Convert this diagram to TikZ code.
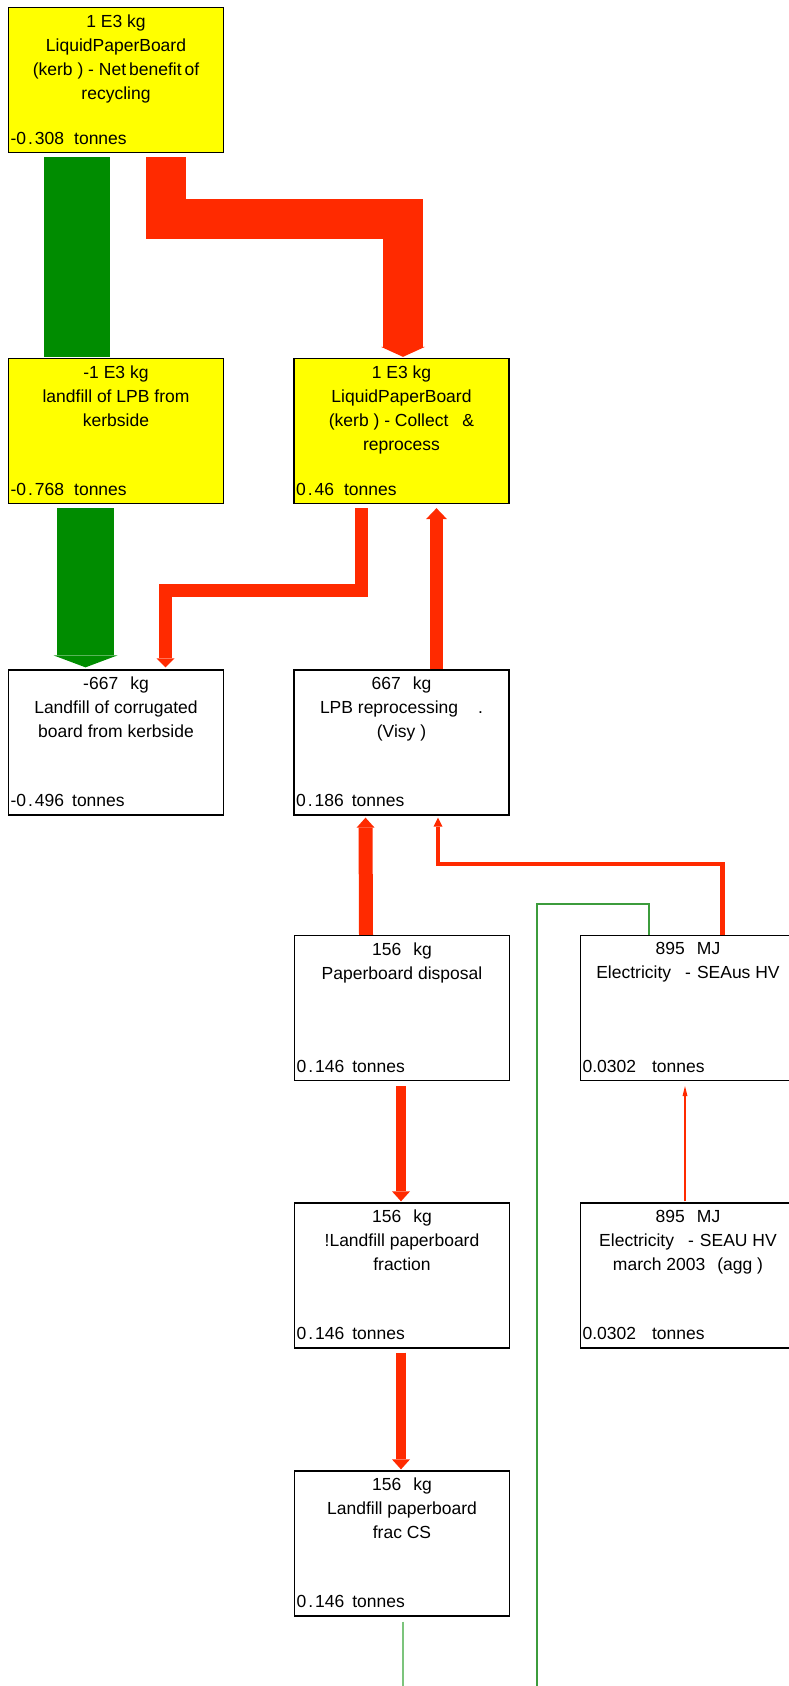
\documentclass[tikz,border=0pt]{standalone}
\usepackage{fontspec}
\setmainfont{Liberation Sans}
\usetikzlibrary{arrows.meta}
\definecolor{flowred}{HTML}{FF2A00}
\definecolor{flowgreen}{HTML}{008C00}
\definecolor{thingreen}{HTML}{3C9C3C}
\definecolor{lightgreen}{HTML}{7CC47C}
\definecolor{boxyellow}{HTML}{FFFF00}
\tikzset{
  pbox/.style={draw=black, line width=1.3pt, minimum width=215pt, minimum height=145pt, inner sep=0pt, fill=white},
  ybox/.style={fill=boxyellow},
  ptitle/.style={anchor=north, align=center, inner sep=0pt, font=\fontsize{17.5}{24}\selectfont},
  pval/.style={anchor=base west, inner sep=0pt, font=\fontsize{17.5}{24}\selectfont},
  flow/.style={line join=miter, line cap=butt},
}
\newcommand\procbox[5]{%
  \node[pbox,#3] (#1) at (#2) {};
  \node[ptitle] (#1-t) at ([yshift=-7.5pt]#1.north) {#4};
  \node[pval] (#1-v) at ([xshift=2.5pt,yshift=9pt]#1.south west) {#5};
}
\newcommand\dt{\kern2pt.\kern2pt}
\begin{document}
\begin{tikzpicture}[x=1pt,y=-1pt]
\useasboundingbox[fill=white] (0,0) rectangle (788,1686);
\procbox{b1}{116,80}{ybox}{1 E3 kg\\LiquidPaperBoard\\(kerb ) - Net\,benefit\,of\\recycling}{-0\dt308\hspace{10pt}tonnes}
\procbox{b2}{116,431}{ybox}{-1 E3 kg\\landfill of LPB from\\kerbside}{-0\dt768\hspace{10pt}tonnes}
\procbox{b3}{401.5,431}{ybox}{1 E3 kg\\LiquidPaperBoard\\(kerb ) - Collect\hspace{14pt}\&\\reprocess}{0\dt46\hspace{10pt}tonnes}
\procbox{b4}{116,742.5}{}{-667\hspace{12pt}kg\\Landfill of corrugated\\board from kerbside}{-0\dt496\hspace{8pt}tonnes}
\procbox{b5}{401.5,742.5}{}{667\hspace{12pt}kg\\LPB reprocessing\hspace{20pt}.\\(Visy )}{0\dt186\hspace{8pt}tonnes}
\procbox{b6}{402,1008}{}{156\hspace{12pt}kg\\Paperboard disposal}{0\dt146\hspace{8pt}tonnes}
\procbox{b7}{688,1008}{}{895\hspace{12pt}MJ\\Electricity\hspace{14pt}-\hspace{6pt}SEAus HV}{0.0302\hspace{16pt}tonnes}
\procbox{b8}{402,1275.5}{}{156\hspace{12pt}kg\\!Landfill paperboard\\fraction}{0\dt146\hspace{8pt}tonnes}
\procbox{b9}{688,1275.5}{}{895\hspace{12pt}MJ\\Electricity\hspace{14pt}-\hspace{6pt}SEAU HV\\march 2003\hspace{12pt}(agg )}{0.0302\hspace{16pt}tonnes}
\procbox{b10}{402,1543.5}{}{156\hspace{12pt}kg\\Landfill paperboard\\frac CS}{0\dt146\hspace{8pt}tonnes}
\coordinate (gend) at (537,1700);
\coordinate (gend2) at (403,1700);
% flows
\draw[flowgreen, flow, line width=66pt, shorten <=4pt, shorten >=1pt] ([xshift=-39pt]b1.south) -- ([xshift=-39pt]b2.north);
\draw[flowred, flow, line width=40pt, shorten <=4pt, shorten >=1pt, -{Triangle[width=44pt,length=10pt,line width=0pt]}] ([xshift=50pt]b1.south) -- ++(0,66) -| ([xshift=1.5pt]b3.north);
\draw[flowgreen, flow, line width=57pt, shorten <=4pt, shorten >=2pt, -{Triangle[width=64pt,length=12pt,line width=0pt]}] ([xshift=-30.5pt]b2.south) -- ([xshift=-30.5pt]b4.north);
\draw[flowred, flow, line width=13pt, shorten <=4pt, shorten >=2pt, -{Triangle[width=18pt,length=9pt,line width=0pt]}] ([xshift=-40.5pt]b3.south) -- ++(0,86.5) -| ([xshift=49.5pt]b4.north);
\draw[flowred, flow, line width=13pt, shorten >=4pt, -{Triangle[width=21pt,length=11pt,line width=0pt]}] ([xshift=35pt]b5.north) -- ([xshift=35pt]b3.south);
\draw[flowred, flow, line width=14pt, shorten >=2pt, -{Triangle[width=18pt,length=10pt,line width=0pt]}] ([xshift=-36pt]b6.north) -- ([xshift=-36pt]b5.south);
\draw[flowred, flow, line width=4.5pt, shorten >=2pt, -{Triangle[width=9pt,length=9pt,line width=0pt]}] ([xshift=34.5pt]b7.north) -- ++(0,-71) -| ([xshift=36.5pt]b5.south);
\draw[thingreen, line width=1.5pt] ([xshift=-39pt]b7.north) -- ++(0,-31) -| (gend);
\draw[flowred, flow, line width=10pt, shorten <=5pt, shorten >=1pt, -{Triangle[width=18pt,length=10pt,line width=0pt]}] ([xshift=-1pt]b6.south) -- ([xshift=-1pt]b8.north);
\draw[flowred, line width=1.2pt, shorten <=1pt, shorten >=5pt, -{Triangle[width=5pt,length=10pt,line width=0pt]}] ([xshift=-3pt]b9.north) -- ([xshift=-3pt]b7.south);
\draw[flowred, flow, line width=10pt, shorten <=4pt, shorten >=1pt, -{Triangle[width=18pt,length=10pt,line width=0pt]}] ([xshift=-1pt]b8.south) -- ([xshift=-1pt]b10.north);
\draw[lightgreen, line width=2pt, shorten <=5pt] ([xshift=1pt]b10.south) -- (gend2);
\end{tikzpicture}
\end{document}
